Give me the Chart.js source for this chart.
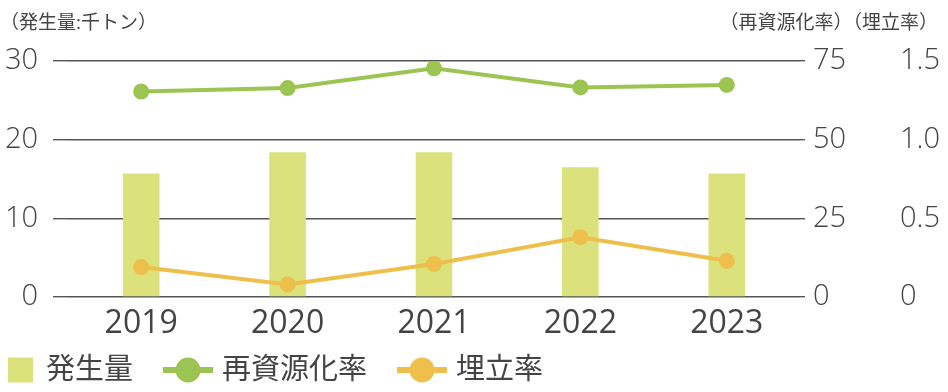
<!DOCTYPE html>
<html>
<head>
<meta charset="utf-8">
<script src="https://cdn.jsdelivr.net/npm/chart.js@4/dist/chart.umd.min.js"></script>
<style>
html,body{margin:0;padding:0;background:#fff;}
#wrap{width:948px;height:392px;position:relative;}
</style>
</head>
<body>
<div id="wrap"><canvas id="c" width="948" height="392"></canvas></div>
<script>
// ---- data ----
const years = ['2019', '2020', '2021', '2022', '2023'];
const generation = [15.7, 18.4, 18.4, 16.5, 15.7];      // 発生量 (千トン)
const recyclingRate = [65.3, 66.4, 72.7, 66.6, 67.4];   // 再資源化率
const landfillRate = [0.19, 0.08, 0.21, 0.38, 0.23];    // 埋立率
const seriesNames = ['発生量', '再資源化率', '埋立率'];
const leftUnit = '（発生量:千トン）';
const rightUnit = '（再資源化率）（埋立率）';
const leftTicks = [0, 10, 20, 30];
const midTicks = [0, 25, 50, 75];
const rightTicks = [0, 0.5, 1.0, 1.5];

const FONT = "'Open Sans', 'Noto Sans CJK JP', sans-serif";
const TXT = '#444444';
const GRID = '#555555';
const C_BAR = '#dbe17b';
const C_GREEN = '#9bc453';
const C_YELLOW = '#efbf4b';

const headerPlugin = {
  id: 'headers',
  afterDraw(chart) {
    const ctx = chart.ctx;
    ctx.save();
    ctx.fillStyle = TXT;
    ctx.font = "19px " + FONT;
    ctx.textBaseline = 'middle';
    ctx.textAlign = 'left';
    ctx.fillText(leftUnit, 0, 24);
    ctx.textAlign = 'right';
    ctx.fillText(rightUnit, chart.width - 10, 24);
    ctx.restore();
  }
};

const legendPlugin = {
  id: 'customLegend',
  afterDraw(chart) {
    const ctx = chart.ctx;
    const y = chart.height - 22;
    ctx.save();
    ctx.font = "29px " + FONT;
    ctx.textBaseline = 'middle';
    ctx.textAlign = 'left';
    let x = 8;
    // bar item
    ctx.fillStyle = C_BAR;
    ctx.fillRect(x, y - 12.5, 25, 25);
    x += 25 + 13;
    ctx.fillStyle = TXT;
    ctx.fillText(seriesNames[0], x, y + 1);
    x += ctx.measureText(seriesNames[0]).width + 30;
    // line items
    const lines = [[seriesNames[1], C_GREEN], [seriesNames[2], C_YELLOW]];
    lines.forEach(([name, col]) => {
      ctx.strokeStyle = col;
      ctx.lineWidth = 6;
      ctx.beginPath();
      ctx.moveTo(x, y);
      ctx.lineTo(x + 50, y);
      ctx.stroke();
      ctx.fillStyle = col;
      ctx.beginPath();
      ctx.arc(x + 25, y, 12.5, 0, Math.PI * 2);
      ctx.fill();
      x += 50 + 9;
      ctx.fillStyle = TXT;
      ctx.fillText(name, x, y + 1);
      x += ctx.measureText(name).width + 30;
    });
    ctx.restore();
  }
};

new Chart(document.getElementById('c'), {
  data: {
    labels: years,
    datasets: [
      {
        type: 'line', label: seriesNames[1], data: recyclingRate, yAxisID: 'y1',
        borderColor: C_GREEN, backgroundColor: C_GREEN, borderWidth: 4,
        pointRadius: 8, pointHoverRadius: 8, pointBorderWidth: 0, tension: 0, order: 1
      },
      {
        type: 'line', label: seriesNames[2], data: landfillRate, yAxisID: 'y2',
        borderColor: C_YELLOW, backgroundColor: C_YELLOW, borderWidth: 4,
        pointRadius: 8, pointHoverRadius: 8, pointBorderWidth: 0, tension: 0, order: 2
      },
      {
        type: 'bar', label: seriesNames[0], data: generation, yAxisID: 'y',
        backgroundColor: C_BAR, borderWidth: 0,
        barPercentage: 0.25, categoryPercentage: 1.0, order: 3
      }
    ]
  },
  options: {
    responsive: false,
    animation: false,
    layout: { padding: { top: 61, bottom: 37, left: 0, right: 0 } },
    plugins: { legend: { display: false }, tooltip: { enabled: false }, title: { display: false } },
    scales: {
      x: {
        position: 'bottom', offset: true,
        grid: { display: false, drawTicks: false }, border: { display: false },
        ticks: { color: TXT, font: { family: FONT, size: 32, weight: '400' }, padding: 8 },
        afterFit(s) { s.height = 58; }
      },
      y: {
        position: 'left', min: 0, max: 30,
        afterBuildTicks(s) { s.ticks = leftTicks.map(v => ({ value: v })); },
        grid: { color: GRID, lineWidth: 1.4, tickLength: 15, drawTicks: true },
        border: { display: false },
        ticks: { color: TXT, font: { family: FONT, size: 29, weight: '300' }, padding: 15 },
        afterFit(s) { s.width = 68; }
      },
      y1: {
        position: 'right', min: 0, max: 75,
        afterBuildTicks(s) { s.ticks = midTicks.map(v => ({ value: v })); },
        grid: { drawOnChartArea: false, color: GRID, lineWidth: 1.4, tickLength: 5, drawTicks: true },
        border: { display: false },
        ticks: { color: TXT, font: { family: FONT, size: 29, weight: '300' }, padding: 8 },
        afterFit(s) { s.width = 87; }
      },
      y2: {
        position: 'right', min: 0, max: 1.5,
        afterBuildTicks(s) { s.ticks = rightTicks.map(v => ({ value: v })); },
        grid: { display: false, drawTicks: false },
        border: { display: false },
        ticks: { color: TXT, font: { family: FONT, size: 29, weight: '300' }, padding: 13,
          callback: v => (v === 0 ? '0' : Number(v).toFixed(1)) },
        afterFit(s) { s.width = 61; }
      }
    }
  },
  plugins: [headerPlugin, legendPlugin]
});
</script>
</body>
</html>
